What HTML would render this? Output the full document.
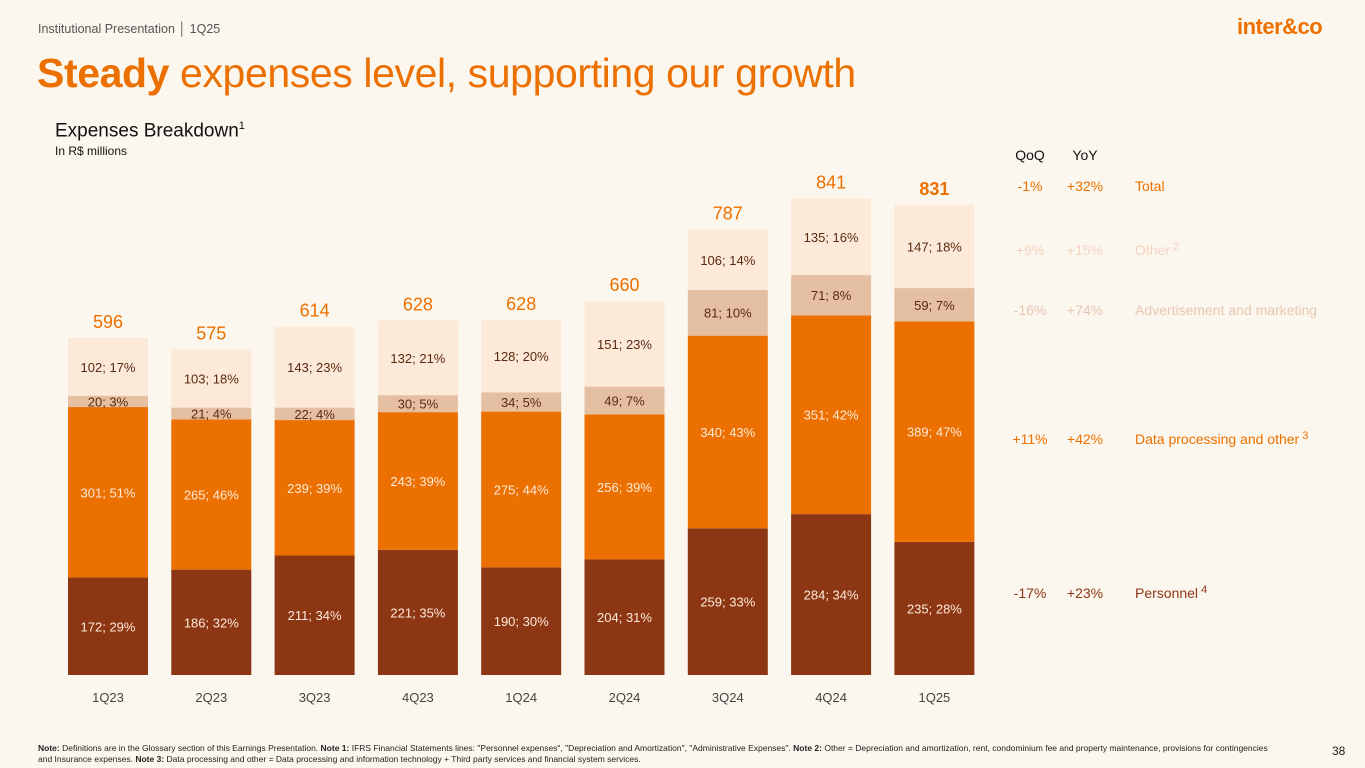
<!DOCTYPE html>
<html><head><meta charset="utf-8">
<style>
body{margin:0;width:1365px;height:768px;background:#fcf7ee;font-family:"Liberation Sans",sans-serif;overflow:hidden;position:relative}
.abs{position:absolute}
</style></head><body>
<div class="abs" style="left:38px;top:22px;font-size:12.5px;color:#555">Institutional Presentation │ 1Q25</div>
<div class="abs" style="left:1237px;top:14px;font-size:22px;font-weight:bold;color:#ec7000;letter-spacing:-0.5px">inter&amp;co</div>
<div class="abs" style="left:37px;top:50px;font-size:41px;color:#ec7000;letter-spacing:-0.4px"><b>Steady</b> expenses level, supporting our growth</div>
<div class="abs" style="left:55px;top:120px;font-size:19px;color:#111">Expenses Breakdown<sup style="font-size:11px">1</sup></div>
<div class="abs" style="left:55px;top:144px;font-size:12px;color:#111">In R$ millions</div>
<svg class="abs" style="left:0;top:0" width="1365" height="768" id="chart"></svg>
<div class="abs" style="left:38px;top:743px;font-size:8.5px;color:#222;line-height:11px;width:1240px"><b>Note:</b> Definitions are in the Glossary section of this Earnings Presentation. <b>Note 1:</b> IFRS Financial Statements lines: "Personnel expenses", "Depreciation and Amortization", "Administrative Expenses". <b>Note 2:</b> Other = Depreciation and amortization, rent, condominium fee and property maintenance, provisions for contingencies and Insurance expenses. <b>Note 3:</b> Data processing and other = Data processing and information technology + Third party services and financial system services.</div>
<div class="abs" style="left:1332px;top:744px;font-size:12px;color:#222">38</div>
<script>
const categories=["1Q23","2Q23","3Q23","4Q23","1Q24","2Q24","3Q24","4Q24","1Q25"];
const personnel=[172,186,211,221,190,204,259,284,235];
const personnelPct=[29,32,34,35,30,31,33,34,28];
const dataProc=[301,265,239,243,275,256,340,351,389];
const dataProcPct=[51,46,39,39,44,39,43,42,47];
const advert=[20,21,22,30,34,49,81,71,59];
const advertPct=[3,4,4,5,5,7,10,8,7];
const other=[102,103,143,132,128,151,106,135,147];
const otherPct=[17,18,23,21,20,23,14,16,18];
const totals=[596,575,614,628,628,660,787,841,831];
const qoq=["-1%","+9%","-16%","+11%","-17%"];
const yoy=["+32%","+15%","+74%","+42%","+23%"];
const rowLabels=["Total","Other","Advertisement and marketing","Data processing and other","Personnel"];
const rowSup=["","2","","3","4"];

const svg=document.getElementById('chart');
const NS="http://www.w3.org/2000/svg";
const base=675, k=0.5665, x0=108, step=103.3, bw=80;
const y=v=>base-v*k;
const xc=i=>x0+i*step;
function mk(tag,attrs,txt){const e=document.createElementNS(NS,tag);for(const a in attrs)e.setAttribute(a,attrs[a]);if(txt!==undefined)e.textContent=txt;svg.appendChild(e);return e;}
const series=[
 {v:personnel,p:personnelPct,c:"#8d3614",t:"#fde9d8",n:"personnel"},
 {v:dataProc,p:dataProcPct,c:"#ec7000",t:"#fde9d8",n:"data-processing"},
 {v:advert,p:advertPct,c:"#e5bfa2",t:"#5a2a10",n:"advertisement"},
 {v:other,p:otherPct,c:"#fde9d8",t:"#5a2a10",n:"other"}];
categories.forEach((cat,i)=>{
  let cum=0;
  series.forEach(s=>{
    const v=s.v[i];
    const r=mk('rect',{x:xc(i)-bw/2,y:y(cum+v),width:bw,height:v*k,fill:s.c});
    
    
    const cy=y(cum+v/2)+5;
    const t=mk('text',{x:xc(i),y:cy,'text-anchor':'middle','font-size':13,fill:s.t},v+"; "+s.p[i]+"%");
    
    
    cum+=v;
  });
  const tt=mk('text',{x:xc(i),y:y(cum)-10,'text-anchor':'middle','font-size':18,fill:'#ec7000','font-weight':i==categories.length-1?'bold':'normal'},totals[i]);
  
  
  const xl=mk('text',{x:xc(i),y:702,'text-anchor':'middle','font-size':13,fill:'#444'},cat);
  
  
});
const h1=mk('text',{x:1030,y:160,'text-anchor':'middle','font-size':14,fill:'#111'},"QoQ");


const h2=mk('text',{x:1085,y:160,'text-anchor':'middle','font-size':14,fill:'#111'},"YoY");


const rowY=[191,255,315,444,598];
const rowC=["#ec7000","#f3d3c0","#e6c7b2","#ec7000","#8d3614"];
rowLabels.forEach((lab,j)=>{
  const a=mk('text',{x:1030,y:rowY[j],'text-anchor':'middle','font-size':14,fill:rowC[j]},qoq[j]);
  
  
  const b=mk('text',{x:1085,y:rowY[j],'text-anchor':'middle','font-size':14,fill:rowC[j]},yoy[j]);
  
  
  const c=mk('text',{x:1135,y:rowY[j],'font-size':14,fill:rowC[j]},lab);
  
  
  if(rowSup[j]){const ts=document.createElementNS(NS,'tspan');ts.setAttribute('dy','-5');ts.setAttribute('font-size','11');ts.textContent=" "+rowSup[j];c.appendChild(ts);}
});
</script>
</body></html>
